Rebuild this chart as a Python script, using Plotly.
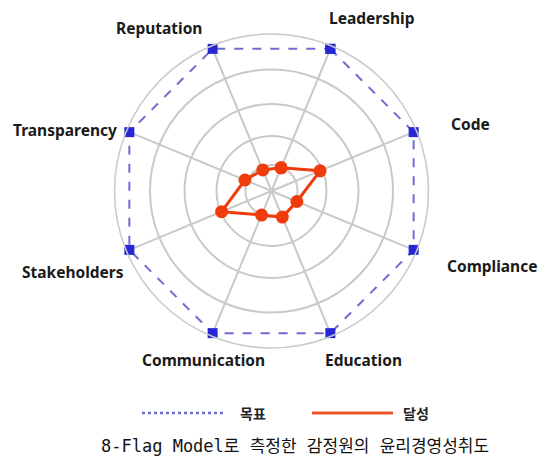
import plotly.graph_objects as go

# ---- data ----
categories = ["Leadership", "Code", "Compliance", "Education",
              "Communication", "Stakeholders", "Transparency", "Reputation"]
target_values = [98, 98, 98, 98, 98, 98, 98, 98]          # 목표
achieved_values = [16, 33.5, 17.5, 18, 16.6, 34.4, 18.3, 14.5]  # 달성
ring_values = [16.6, 35, 55.4, 77.4, 100]
series_names = ["목표", "달성"]
caption = "8-Flag Model로 측정한 감정원의 윤리경영성취도"

# ---- styles / layout ----
OFF = 8  # page body margin in the browser
W, H = 550 - OFF, 476 - OFF
grid_color = "#c9c9c9"
target_line_color = "#6c6cd2"
target_marker_color = "#2626d6"
achieved_color = "#f03c0c"

label_px = {
    "Leadership": (372, 18),
    "Code": (470, 124),
    "Compliance": (492, 266),
    "Education": (363, 360),
    "Communication": (203, 360),
    "Stakeholders": (73, 272),
    "Transparency": (65, 130),
    "Reputation": (159, 28),
}

def px(x, y):
    return (x - OFF) / W, 1 - (y - OFF) / H

cx, cy, R = 271.5 - OFF, 191 - OFF, 157

fig = go.Figure()
fig.add_trace(go.Scatterpolar(
    r=target_values + target_values[:1],
    theta=categories + categories[:1],
    mode="lines+markers",
    line=dict(color=target_line_color, width=2, dash="dash"),
    marker=dict(symbol="square", size=10, color=target_marker_color),
    name=series_names[0], showlegend=False,
))
fig.add_trace(go.Scatterpolar(
    r=achieved_values + achieved_values[:1],
    theta=categories + categories[:1],
    mode="lines+markers",
    line=dict(color=achieved_color, width=3),
    marker=dict(symbol="circle", size=13, color=achieved_color),
    name=series_names[1], showlegend=False,
))

annotations = []
for c in categories:
    x, y = px(*label_px[c])
    annotations.append(dict(
        x=x, y=y, xref="paper", yref="paper", text=f"<b>{c}</b>",
        showarrow=False, xanchor="center", yanchor="middle", borderpad=0,
        font=dict(family="Noto Sans, Open Sans, sans-serif", size=15.5, color="#1a1a1a"),
    ))

# legend (custom)
lx1, ly = px(142, 413)
lx2, _ = px(223, 413)
rx1, _ = px(312, 413)
rx2, _ = px(393, 413)
t1x, _ = px(253, 413)
t2x, _ = px(416, 413)
shapes = [
    dict(type="line", xref="paper", yref="paper", x0=lx1, x1=lx2, y0=ly, y1=ly,
         line=dict(color=target_line_color, width=2.5, dash="dot")),
    dict(type="line", xref="paper", yref="paper", x0=rx1, x1=rx2, y0=ly, y1=ly,
         line=dict(color="#e8552a", width=3)),
]
for tx, name in [(t1x, series_names[0]), (t2x, series_names[1])]:
    annotations.append(dict(
        x=tx, y=ly, xref="paper", yref="paper", text=f"<b>{name}</b>",
        showarrow=False, xanchor="center", yanchor="middle",
        font=dict(family="Noto Sans CJK KR", size=14, color="#222"),
    ))
capx, capy = px(295, 446)
annotations.append(dict(
    x=capx, y=capy, xref="paper", yref="paper", text=caption,
    showarrow=False, xanchor="center", yanchor="middle",
    font=dict(family="DejaVu Sans Mono, Noto Sans CJK KR, monospace", size=17, color="#111"),
))

fig.update_layout(
    width=W, height=H,
    margin=dict(l=0, r=0, t=0, b=0),
    paper_bgcolor="white", plot_bgcolor="white",
    showlegend=False,
    polar=dict(
        domain=dict(x=[(cx - R) / W, (cx + R) / W],
                    y=[(H - cy - R) / H, (H - cy + R) / H]),
        bgcolor="white",
        radialaxis=dict(range=[0, 100], tickvals=ring_values, showticklabels=False,
                        ticks="", showline=False, gridcolor=grid_color, gridwidth=1.5),
        angularaxis=dict(rotation=67.5, direction="clockwise", showticklabels=False,
                         ticks="", showline=True, linecolor=grid_color, linewidth=1.5,
                         gridcolor=grid_color, gridwidth=1.5),
    ),
    annotations=annotations,
    shapes=shapes,
)

fig.write_html("out.html")
